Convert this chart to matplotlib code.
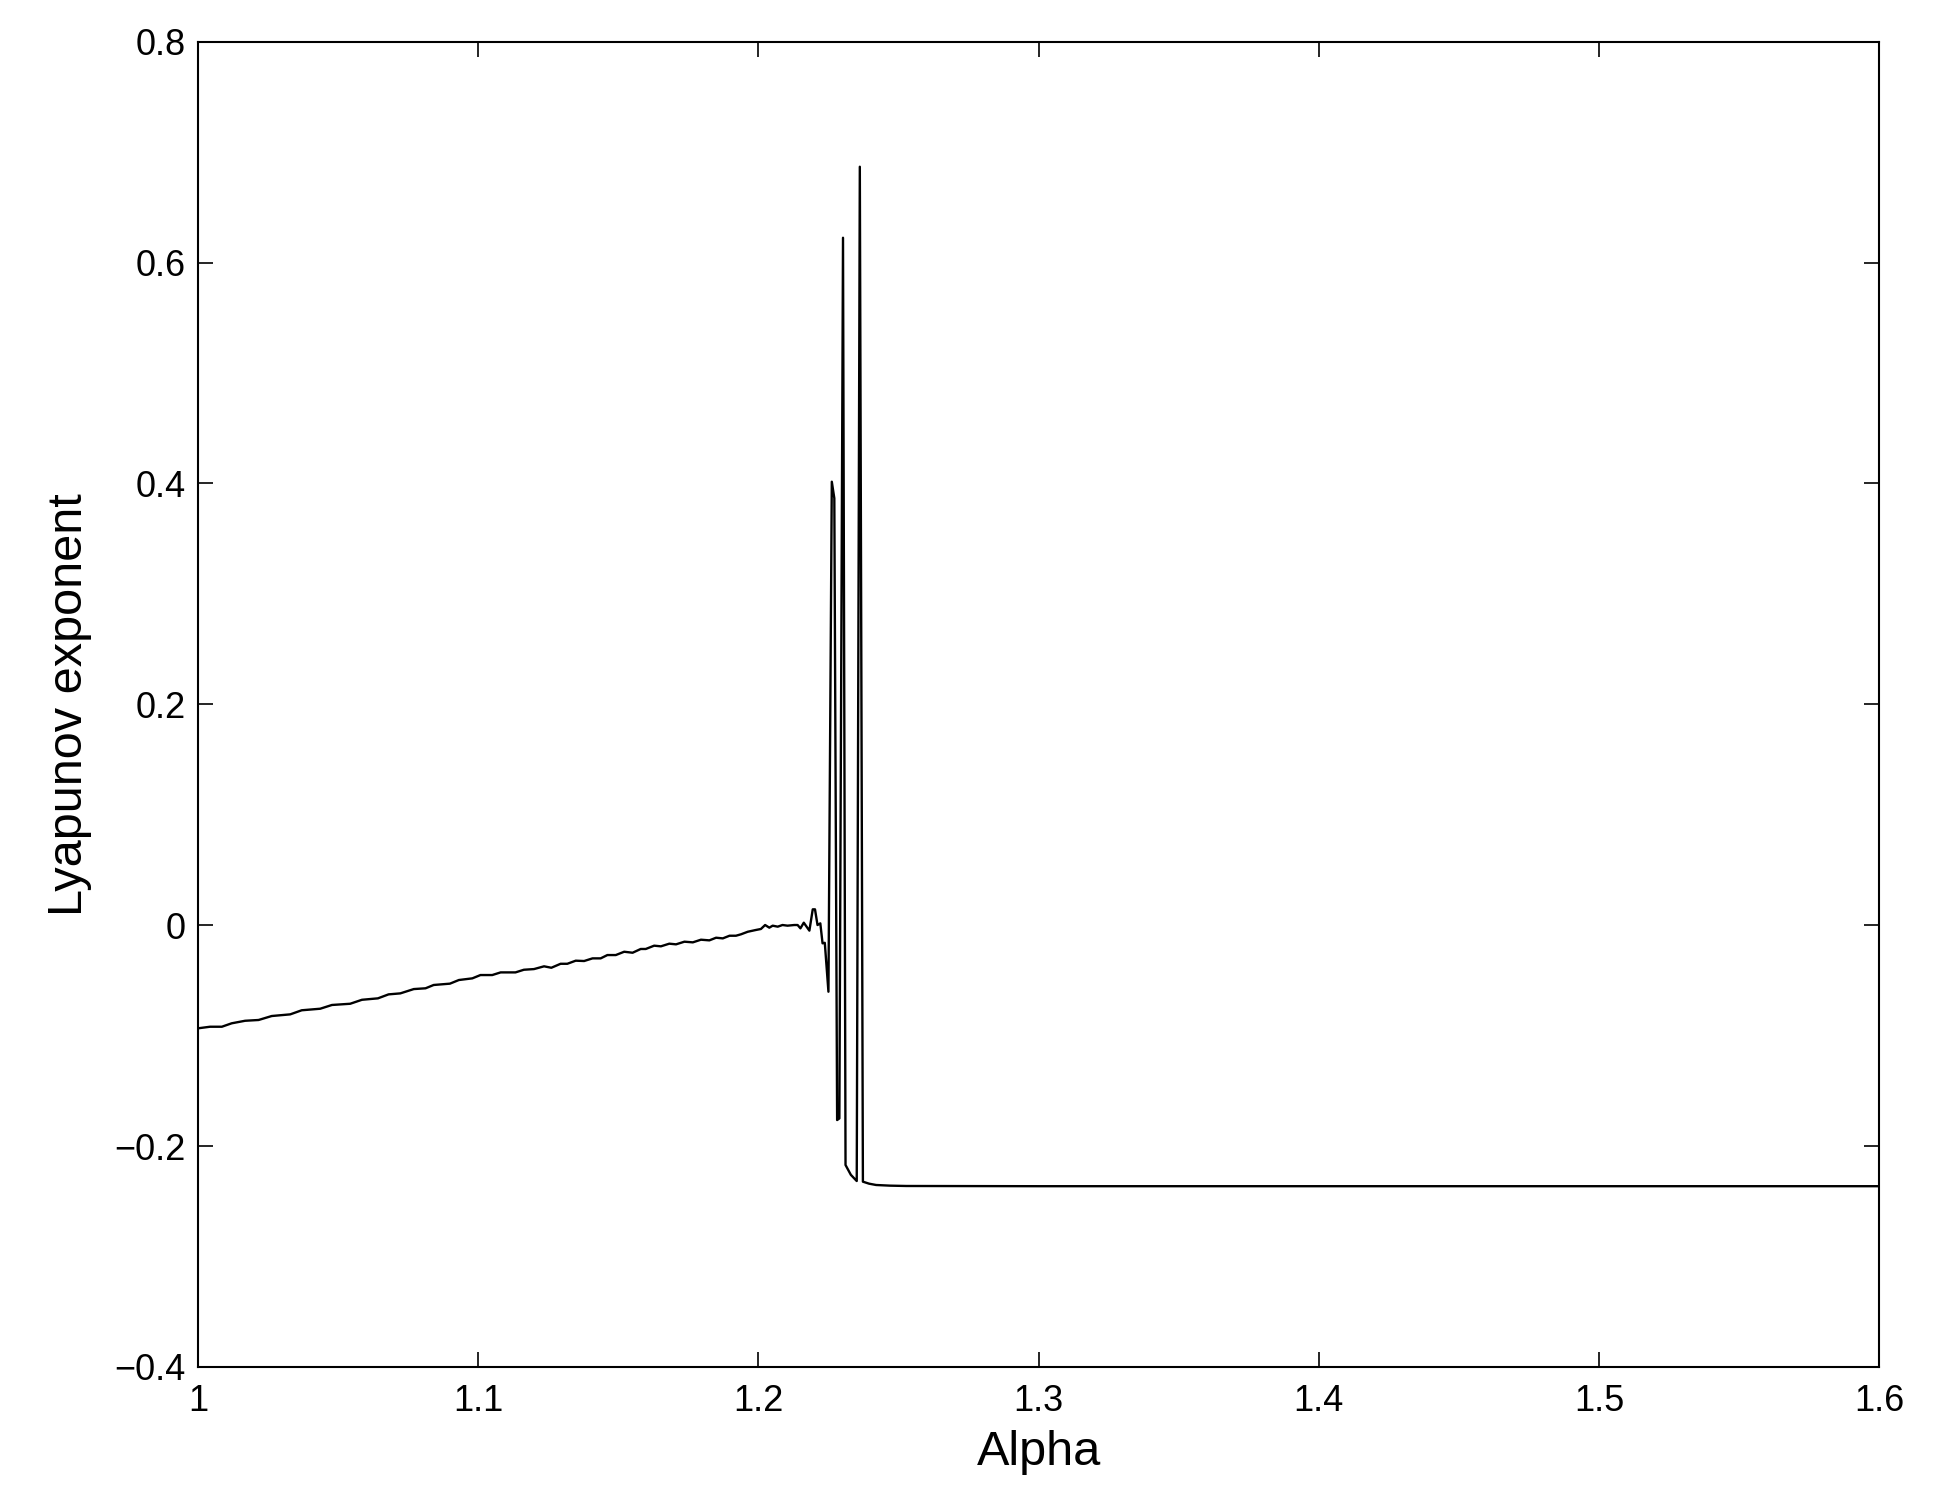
import matplotlib
matplotlib.use("Agg")
import matplotlib.pyplot as plt

plt.rcParams['font.family'] = ['Liberation Sans', 'DejaVu Sans']

# Lyapunov exponent vs alpha
alpha = [
    1.0001, 1.0043, 1.0085, 1.0120, 1.0168, 1.0216, 1.0263, 1.0329, 1.0370, 1.0436,
    1.0478, 1.0543, 1.0585, 1.0642, 1.0680, 1.0722, 1.0770, 1.0812, 1.0841, 1.0899,
    1.0931, 1.0979, 1.1008, 1.1050, 1.1080, 1.1133, 1.1163, 1.1199, 1.1235, 1.1261,
    1.1294, 1.1318, 1.1348, 1.1378, 1.1408, 1.1437, 1.1461, 1.1491, 1.1521, 1.1551,
    1.1580, 1.1598, 1.1628, 1.1652, 1.1682, 1.1706, 1.1736, 1.1766, 1.1795, 1.1825,
    1.1849, 1.1873, 1.1897, 1.1920, 1.1938, 1.1962, 1.1991, 1.2009, 1.2024, 1.2039,
    1.2051, 1.2069, 1.2086, 1.2104, 1.2128, 1.2140, 1.2150, 1.2162, 1.2182, 1.2194,
    1.2202, 1.2211, 1.2221, 1.2229, 1.2237, 1.2250, 1.2262, 1.2271, 1.2281, 1.2289,
    1.2302, 1.2311, 1.2330, 1.2351, 1.2362, 1.2373, 1.2395, 1.2420, 1.2470, 1.2528,
    1.3000, 1.4000, 1.5000, 1.6000,
]
lyap = [
    -0.0933, -0.0919, -0.0919, -0.0888, -0.0865, -0.0858, -0.0822, -0.0807, -0.0770, -0.0756,
    -0.0722, -0.0711, -0.0675, -0.0662, -0.0626, -0.0617, -0.0578, -0.0571, -0.0541, -0.0529,
    -0.0496, -0.0481, -0.0451, -0.0451, -0.0427, -0.0427, -0.0403, -0.0397, -0.0372, -0.0385,
    -0.0349, -0.0349, -0.0321, -0.0324, -0.0300, -0.0300, -0.0270, -0.0270, -0.0240, -0.0249,
    -0.0215, -0.0215, -0.0185, -0.0191, -0.0167, -0.0173, -0.0149, -0.0155, -0.0131, -0.0137,
    -0.0113, -0.0119, -0.0095, -0.0095, -0.0082, -0.0059, -0.0043, -0.0034, 0.0002, -0.0022,
    -0.0004, -0.0013, 0.0002, -0.0004, 0.0002, 0.0002, -0.0028, 0.0023, -0.0049, 0.0144,
    0.0144, 0.0002, 0.0017, -0.0164, -0.0159, -0.0602, 0.4016, 0.3866, -0.1764, -0.1749,
    0.6225, -0.2171, -0.2260, -0.2316, 0.6868, -0.2322, -0.2340, -0.2352, -0.2358, -0.2361,
    -0.2363, -0.2363, -0.2363, -0.2363,
]

xticks = [1.0, 1.1, 1.2, 1.3, 1.4, 1.5, 1.6]
xticklabels = ['1', '1.1', '1.2', '1.3', '1.4', '1.5', '1.6']
yticks = [-0.4, -0.2, 0.0, 0.2, 0.4, 0.6, 0.8]
yticklabels = ['\u22120.4', '\u22120.2', '0', '0.2', '0.4', '0.6', '0.8']

fig = plt.figure(figsize=(19.36, 15.06), dpi=100)
ax = fig.add_axes([0.1023, 0.0923, 0.8683, 0.880])
ax.plot(alpha, lyap, color='black', linewidth=1.7)
ax.set_xlim(1.0, 1.6)
ax.set_ylim(-0.4, 0.8)
ax.set_xticks(xticks)
ax.set_xticklabels(xticklabels)
ax.set_yticks(yticks)
ax.set_yticklabels(yticklabels)
ax.tick_params(direction='in', length=11, width=1.2, top=True, right=True,
               labelsize=26)
ax.tick_params(axis='x', pad=12)
ax.tick_params(axis='y', pad=9)
for s in ax.spines.values():
    s.set_linewidth(1.5)
ax.set_xlabel('Alpha', fontsize=35, labelpad=8)
ax.set_ylabel('Lyapunov exponent', fontsize=35, labelpad=16)

fig.savefig('out.png', dpi=100)
